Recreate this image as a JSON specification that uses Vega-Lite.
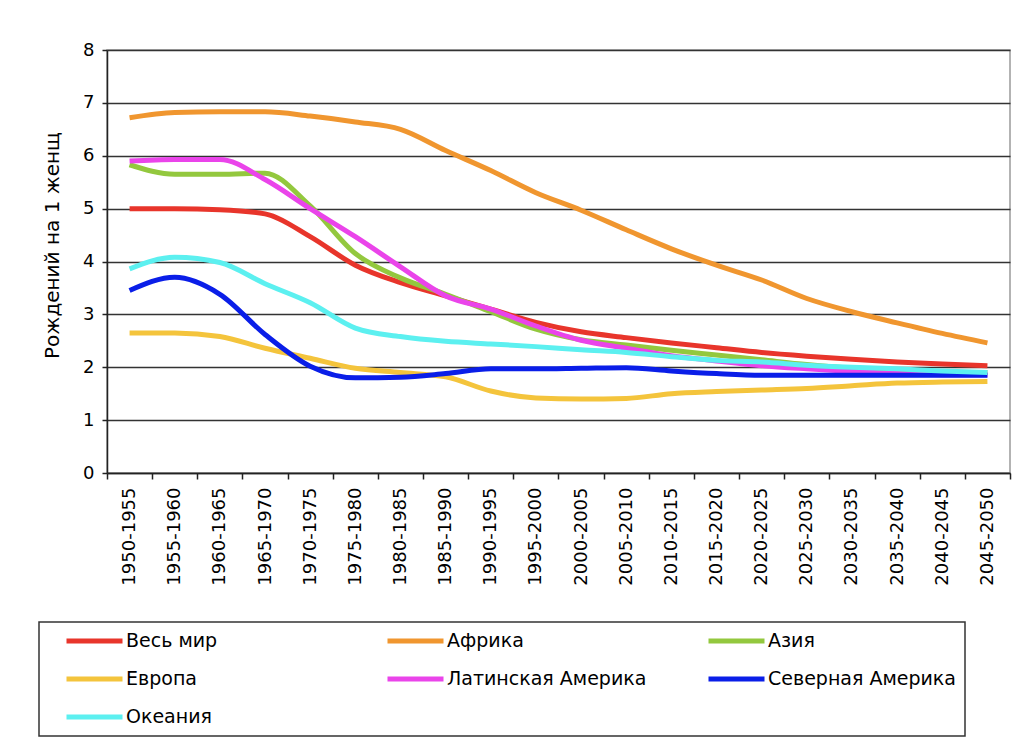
{
  "$schema": "https://vega.github.io/schema/vega-lite/v6.json",
  "width": 903,
  "height": 423,
  "autosize": {"type": "none"},
  "padding": {"left": 107, "top": 50, "right": 8, "bottom": 273},
  "background": "white",
  "config": {
    "font": "DejaVu Sans",
    "view": {"stroke": "#9a9a9a", "strokeWidth": 1.5},
    "axis": {"labelColor": "#000", "titleColor": "#000", "labelFont": "DejaVu Sans", "titleFont": "DejaVu Sans"},
    "legend": {"strokeWidth": 1.5, "labelFont": "DejaVu Sans"}
  },
  "data": {"values": [
    {"period":"1950-1955","region":"Весь мир","tfr":5.0},
    {"period":"1955-1960","region":"Весь мир","tfr":5.0},
    {"period":"1960-1965","region":"Весь мир","tfr":4.98},
    {"period":"1965-1970","region":"Весь мир","tfr":4.9},
    {"period":"1970-1975","region":"Весь мир","tfr":4.47},
    {"period":"1975-1980","region":"Весь мир","tfr":3.93},
    {"period":"1980-1985","region":"Весь мир","tfr":3.6},
    {"period":"1985-1990","region":"Весь мир","tfr":3.35},
    {"period":"1990-1995","region":"Весь мир","tfr":3.1},
    {"period":"1995-2000","region":"Весь мир","tfr":2.85},
    {"period":"2000-2005","region":"Весь мир","tfr":2.67},
    {"period":"2005-2010","region":"Весь мир","tfr":2.56},
    {"period":"2010-2015","region":"Весь мир","tfr":2.46},
    {"period":"2015-2020","region":"Весь мир","tfr":2.37},
    {"period":"2020-2025","region":"Весь мир","tfr":2.28},
    {"period":"2025-2030","region":"Весь мир","tfr":2.21},
    {"period":"2030-2035","region":"Весь мир","tfr":2.15},
    {"period":"2035-2040","region":"Весь мир","tfr":2.1},
    {"period":"2040-2045","region":"Весь мир","tfr":2.06},
    {"period":"2045-2050","region":"Весь мир","tfr":2.03},
    {"period":"1950-1955","region":"Африка","tfr":6.72},
    {"period":"1955-1960","region":"Африка","tfr":6.82},
    {"period":"1960-1965","region":"Африка","tfr":6.83},
    {"period":"1965-1970","region":"Африка","tfr":6.83},
    {"period":"1970-1975","region":"Африка","tfr":6.75},
    {"period":"1975-1980","region":"Африка","tfr":6.64},
    {"period":"1980-1985","region":"Африка","tfr":6.5},
    {"period":"1985-1990","region":"Африка","tfr":6.1},
    {"period":"1990-1995","region":"Африка","tfr":5.72},
    {"period":"1995-2000","region":"Африка","tfr":5.3},
    {"period":"2000-2005","region":"Африка","tfr":4.97},
    {"period":"2005-2010","region":"Африка","tfr":4.6},
    {"period":"2010-2015","region":"Африка","tfr":4.24},
    {"period":"2015-2020","region":"Африка","tfr":3.93},
    {"period":"2020-2025","region":"Африка","tfr":3.65},
    {"period":"2025-2030","region":"Африка","tfr":3.3},
    {"period":"2030-2035","region":"Африка","tfr":3.05},
    {"period":"2035-2040","region":"Африка","tfr":2.84},
    {"period":"2040-2045","region":"Африка","tfr":2.64},
    {"period":"2045-2050","region":"Африка","tfr":2.46},
    {"period":"1950-1955","region":"Азия","tfr":5.83},
    {"period":"1955-1960","region":"Азия","tfr":5.65},
    {"period":"1960-1965","region":"Азия","tfr":5.65},
    {"period":"1965-1970","region":"Азия","tfr":5.67},
    {"period":"1970-1975","region":"Азия","tfr":5.05},
    {"period":"1975-1980","region":"Азия","tfr":4.15},
    {"period":"1980-1985","region":"Азия","tfr":3.69},
    {"period":"1985-1990","region":"Азия","tfr":3.38},
    {"period":"1990-1995","region":"Азия","tfr":3.05},
    {"period":"1995-2000","region":"Азия","tfr":2.72},
    {"period":"2000-2005","region":"Азия","tfr":2.52},
    {"period":"2005-2010","region":"Азия","tfr":2.42},
    {"period":"2010-2015","region":"Азия","tfr":2.32},
    {"period":"2015-2020","region":"Азия","tfr":2.23},
    {"period":"2020-2025","region":"Азия","tfr":2.14},
    {"period":"2025-2030","region":"Азия","tfr":2.05},
    {"period":"2030-2035","region":"Азия","tfr":1.98},
    {"period":"2035-2040","region":"Азия","tfr":1.94},
    {"period":"2040-2045","region":"Азия","tfr":1.91},
    {"period":"2045-2050","region":"Азия","tfr":1.9},
    {"period":"1950-1955","region":"Европа","tfr":2.65},
    {"period":"1955-1960","region":"Европа","tfr":2.65},
    {"period":"1960-1965","region":"Европа","tfr":2.58},
    {"period":"1965-1970","region":"Европа","tfr":2.36},
    {"period":"1970-1975","region":"Европа","tfr":2.17},
    {"period":"1975-1980","region":"Европа","tfr":1.98},
    {"period":"1980-1985","region":"Европа","tfr":1.9},
    {"period":"1985-1990","region":"Европа","tfr":1.82},
    {"period":"1990-1995","region":"Европа","tfr":1.55},
    {"period":"1995-2000","region":"Европа","tfr":1.42},
    {"period":"2000-2005","region":"Европа","tfr":1.4},
    {"period":"2005-2010","region":"Европа","tfr":1.41},
    {"period":"2010-2015","region":"Европа","tfr":1.5},
    {"period":"2015-2020","region":"Европа","tfr":1.54},
    {"period":"2020-2025","region":"Европа","tfr":1.57},
    {"period":"2025-2030","region":"Европа","tfr":1.6},
    {"period":"2030-2035","region":"Европа","tfr":1.65},
    {"period":"2035-2040","region":"Европа","tfr":1.7},
    {"period":"2040-2045","region":"Европа","tfr":1.72},
    {"period":"2045-2050","region":"Европа","tfr":1.73},
    {"period":"1950-1955","region":"Латинская Америка","tfr":5.9},
    {"period":"1955-1960","region":"Латинская Америка","tfr":5.93},
    {"period":"1960-1965","region":"Латинская Америка","tfr":5.93},
    {"period":"1965-1970","region":"Латинская Америка","tfr":5.55},
    {"period":"1970-1975","region":"Латинская Америка","tfr":5.0},
    {"period":"1975-1980","region":"Латинская Америка","tfr":4.47},
    {"period":"1980-1985","region":"Латинская Америка","tfr":3.9},
    {"period":"1985-1990","region":"Латинская Америка","tfr":3.35},
    {"period":"1990-1995","region":"Латинская Америка","tfr":3.1},
    {"period":"1995-2000","region":"Латинская Америка","tfr":2.78},
    {"period":"2000-2005","region":"Латинская Америка","tfr":2.51},
    {"period":"2005-2010","region":"Латинская Америка","tfr":2.36},
    {"period":"2010-2015","region":"Латинская Америка","tfr":2.22},
    {"period":"2015-2020","region":"Латинская Америка","tfr":2.12},
    {"period":"2020-2025","region":"Латинская Америка","tfr":2.03},
    {"period":"2025-2030","region":"Латинская Америка","tfr":1.97},
    {"period":"2030-2035","region":"Латинская Америка","tfr":1.92},
    {"period":"2035-2040","region":"Латинская Америка","tfr":1.88},
    {"period":"2040-2045","region":"Латинская Америка","tfr":1.86},
    {"period":"2045-2050","region":"Латинская Америка","tfr":1.86},
    {"period":"1950-1955","region":"Северная Америка","tfr":3.45},
    {"period":"1955-1960","region":"Северная Америка","tfr":3.7},
    {"period":"1960-1965","region":"Северная Америка","tfr":3.38},
    {"period":"1965-1970","region":"Северная Америка","tfr":2.62},
    {"period":"1970-1975","region":"Северная Америка","tfr":2.02},
    {"period":"1975-1980","region":"Северная Америка","tfr":1.8},
    {"period":"1980-1985","region":"Северная Америка","tfr":1.81},
    {"period":"1985-1990","region":"Северная Америка","tfr":1.88},
    {"period":"1990-1995","region":"Северная Америка","tfr":1.97},
    {"period":"1995-2000","region":"Северная Америка","tfr":1.97},
    {"period":"2000-2005","region":"Северная Америка","tfr":1.98},
    {"period":"2005-2010","region":"Северная Америка","tfr":1.99},
    {"period":"2010-2015","region":"Северная Америка","tfr":1.93},
    {"period":"2015-2020","region":"Северная Америка","tfr":1.88},
    {"period":"2020-2025","region":"Северная Америка","tfr":1.85},
    {"period":"2025-2030","region":"Северная Америка","tfr":1.85},
    {"period":"2030-2035","region":"Северная Америка","tfr":1.85},
    {"period":"2035-2040","region":"Северная Америка","tfr":1.85},
    {"period":"2040-2045","region":"Северная Америка","tfr":1.85},
    {"period":"2045-2050","region":"Северная Америка","tfr":1.85},
    {"period":"1950-1955","region":"Океания","tfr":3.86},
    {"period":"1955-1960","region":"Океания","tfr":4.08},
    {"period":"1960-1965","region":"Океания","tfr":3.98},
    {"period":"1965-1970","region":"Океания","tfr":3.58},
    {"period":"1970-1975","region":"Океания","tfr":3.22},
    {"period":"1975-1980","region":"Океания","tfr":2.74},
    {"period":"1980-1985","region":"Океания","tfr":2.58},
    {"period":"1985-1990","region":"Океания","tfr":2.49},
    {"period":"1990-1995","region":"Океания","tfr":2.44},
    {"period":"1995-2000","region":"Океания","tfr":2.39},
    {"period":"2000-2005","region":"Океания","tfr":2.33},
    {"period":"2005-2010","region":"Океания","tfr":2.28},
    {"period":"2010-2015","region":"Океания","tfr":2.2},
    {"period":"2015-2020","region":"Океания","tfr":2.13},
    {"period":"2020-2025","region":"Океания","tfr":2.1},
    {"period":"2025-2030","region":"Океания","tfr":2.04},
    {"period":"2030-2035","region":"Океания","tfr":2.0},
    {"period":"2035-2040","region":"Океания","tfr":1.97},
    {"period":"2040-2045","region":"Океания","tfr":1.93},
    {"period":"2045-2050","region":"Океания","tfr":1.9}
  ]},
  "mark": {"type": "line", "strokeWidth": 5, "interpolate": "monotone"},
  "encoding": {
    "x": {
      "field": "period", "type": "ordinal", "sort": null,
      "scale": {"type": "band", "paddingInner": 0, "paddingOuter": 0},
      "axis": {
        "title": null, "labelAngle": 270, "labelFontSize": 18, "labelPadding": 8,
        "tickBand": "extent", "ticks": true, "tickSize": 6, "tickColor": "#222", "tickWidth": 1.5,
        "domainColor": "#222", "domainWidth": 1.5, "grid": false
      }
    },
    "y": {
      "field": "tfr", "type": "quantitative",
      "scale": {"domain": [0, 8], "nice": false},
      "axis": {
        "title": "Рождений на 1 женщ", "titleFontSize": 20, "titleFontWeight": "normal", "titlePadding": 20, "titleY": 195,
        "values": [0,1,2,3,4,5,6,7,8], "labelFontSize": 18, "labelPadding": 8, "format": "d",
        "tickSize": 5, "tickColor": "#222", "tickWidth": 1.5, "domainColor": "#222", "domainWidth": 1.5,
        "grid": true, "gridColor": "#333", "gridWidth": 1.3
      }
    },
    "color": {
      "field": "region", "type": "nominal",
      "scale": {
        "domain": ["Весь мир","Африка","Азия","Европа","Латинская Америка","Северная Америка","Океания"],
        "range": ["#e8352b","#f0962f","#93c83e","#f4c43c","#ea44ea","#0a1ee8","#5cf0f0"]
      },
      "legend": {
        "title": null, "orient": "none", "legendX": -68, "legendY": 572,
        "direction": "horizontal", "columns": 3, "gridAlign": "all", "columnPadding": 43, "rowPadding": 18,
        "symbolType": "stroke", "symbolSize": 3136, "symbolStrokeWidth": 5, "symbolOffset": 16, "clipHeight": 20,
        "labelFontSize": 19, "labelColor": "#000", "labelOffset": 1, "labelLimit": 400,
        "strokeColor": "#333", "padding": 9, "fillColor": "white"
      }
    }
  }
}
